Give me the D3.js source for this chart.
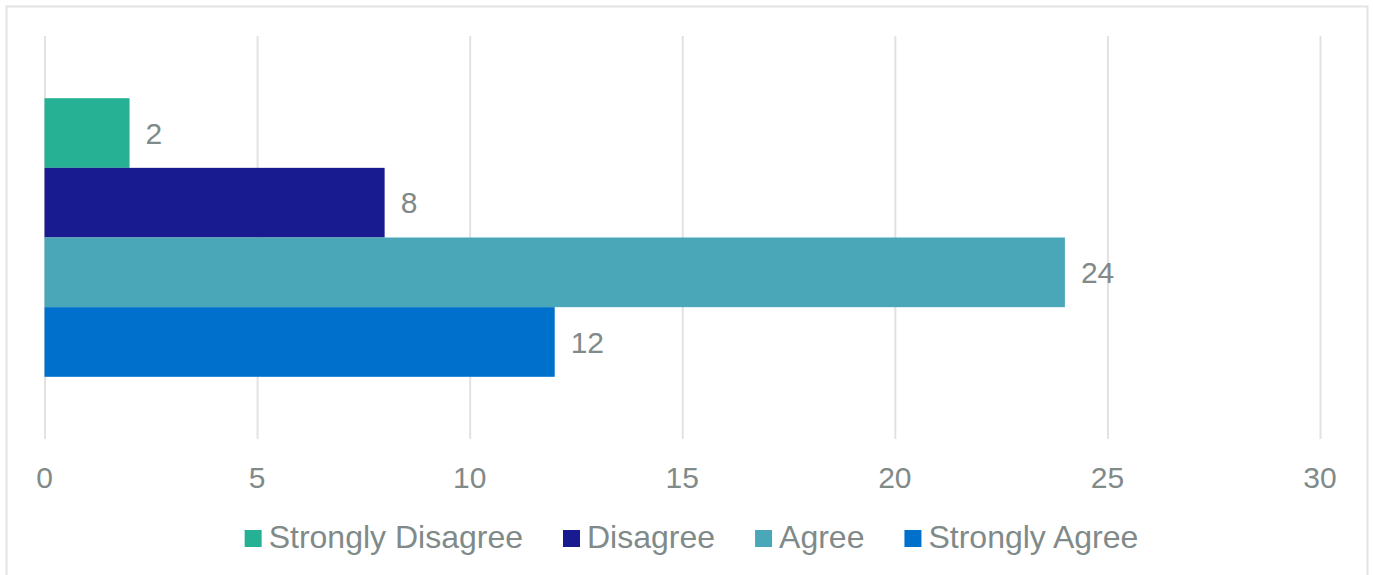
<!DOCTYPE html>
<html>
<head>
<meta charset="utf-8">
<script src="https://cdn.jsdelivr.net/npm/d3@7"></script>
<style>
  html, body { margin: 0; padding: 0; background: #fff; }
  svg { display: block; }
  text { font-family: "Liberation Sans", Arial, sans-serif; fill: #7f8a89; }
</style>
</head>
<body>
<svg id="chart" width="1373" height="575"></svg>
<script>
// Survey responses
const categories = ["Strongly Disagree", "Disagree", "Agree", "Strongly Agree"];
const counts = [2, 8, 24, 12];
const colors = ["#27b194", "#171b8f", "#4aa7b8", "#0070cd"];
const xTicks = [0, 5, 10, 15, 20, 25, 30];

const svg = d3.select("#chart");

// Chart frame
svg.append("rect")
  .attr("x", 6.5).attr("y", 6.5)
  .attr("width", 1361).attr("height", 580)
  .attr("fill", "#fff").attr("stroke", "#e3e3e3").attr("stroke-width", 2);

const plot = { left: 44.5, right: 1320, top: 36, bottom: 439 };

const x = d3.scaleLinear().domain([0, 30]).range([plot.left, plot.right]);
// Bars occupy the middle of the plot's height
const y = d3.scaleBand().domain(categories)
  .range([plot.top, plot.bottom]).paddingOuter(0.893).paddingInner(0);

// Vertical gridlines
const xAxis = d3.axisBottom(x).tickValues(xTicks).tickSize(plot.bottom - plot.top).tickPadding(0).tickFormat("");
const gGrid = svg.append("g").attr("transform", `translate(0,${plot.top})`).call(xAxis);
gGrid.select(".domain").remove();
gGrid.selectAll(".tick line").attr("stroke", "#e2e2e2").attr("stroke-width", 2);

// Tick labels
svg.append("g").selectAll("text").data(xTicks).join("text")
  .attr("x", d => x(d)).attr("y", 488)
  .attr("text-anchor", "middle")
  .attr("font-size", 30)
  .text(d => d);

// Bars
svg.append("g").selectAll("rect").data(categories).join("rect")
  .attr("x", x(0))
  .attr("y", d => y(d))
  .attr("width", (d, i) => x(counts[i]) - x(0))
  .attr("height", y.bandwidth())
  .attr("fill", (d, i) => colors[i]);

// Value labels
svg.append("g").selectAll("text").data(categories).join("text")
  .attr("x", (d, i) => x(counts[i]) + 16)
  .attr("y", d => y(d) + y.bandwidth() / 2)
  .attr("dy", "0.36em")
  .attr("font-size", 30)
  .text((d, i) => counts[i]);

// Legend, centered under the plot
const legend = svg.append("g");
const items = legend.selectAll("g").data(categories).join("g");
items.append("rect").attr("width", 17).attr("height", 17).attr("y", -18)
  .attr("fill", (d, i) => colors[i]);
items.append("text").attr("x", 24).attr("y", 0).attr("font-size", 32).text(d => d);
let cx = 0;
const gap = 40;
items.each(function() {
  const g = d3.select(this);
  const w = 24 + g.select("text").node().getComputedTextLength();
  g.attr("transform", `translate(${cx},0)`);
  cx += w + gap;
});
const total = cx - gap;
legend.attr("transform", `translate(${(245 + 1138) / 2 - total / 2},548)`);
</script>
</body>
</html>
